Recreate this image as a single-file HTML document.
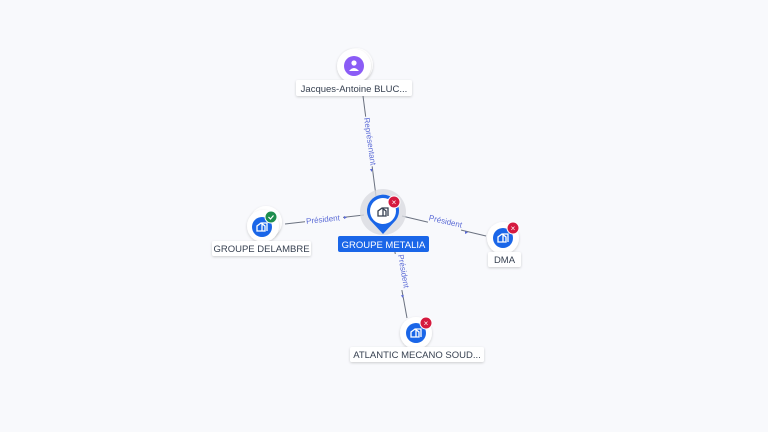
<!DOCTYPE html>
<html><head><meta charset="utf-8"><style>
html,body{margin:0;padding:0;background:#f8f9fc;}
svg{display:block;font-family:"Liberation Sans",sans-serif;}
</style></head><body>
<svg width="768" height="432" viewBox="0 0 768 432">
<defs>
<filter id="sh" x="-30%" y="-30%" width="160%" height="160%"><feDropShadow dx="0" dy="1" stdDeviation="1.2" flood-color="#000" flood-opacity="0.18"/></filter>
<g id="bld"><path d="M-5,4 V-1 L-1,-4 L3,-1 V4 Z M0,4 V-4 H5 V4" fill="none" stroke="#fff" stroke-width="1.3"/></g>
</defs>
<g stroke="#6b7280" stroke-width="1" fill="none">
<line x1="363" y1="96" x2="376" y2="196"/>
<line x1="285" y1="224" x2="364" y2="215"/>
<line x1="402" y1="216" x2="486" y2="236"/>
<line x1="392" y1="236" x2="407" y2="318"/>
</g>
<g fill="#5b6bd6" font-size="8">
<rect x="-1" y="-8" width="50" height="11" fill="#f8f9fc" transform="translate(364,118) rotate(82)"/>
<text transform="translate(364,118) rotate(82)">Représentant</text>
<path d="M370,168 l3,1.5 -3,1.5z" transform="rotate(82 371 170)"/>
<rect x="305" y="213" width="38" height="10" fill="#f8f9fc"/>
<text x="306" y="222" transform="rotate(-6 324 219)">Président</text>
<path d="M344,216 l3,1.5 -3,1.5z"/>
<rect x="428" y="217" width="34" height="14" fill="#f8f9fc" transform="rotate(13 445 224)"/>
<text x="428" y="224" transform="rotate(13 445 224)">Président</text>
<path d="M465,231 l3,1.5 -3,1.5z"/>
<rect x="392" y="254" width="12" height="36" fill="#f8f9fc"/>
<text transform="translate(398,255) rotate(80)">Président</text>
<path d="M402,295 l3,1.5 -3,1.5z" transform="rotate(80 403 296)"/>
</g>
<circle cx="356" cy="65" r="17" fill="#fff" filter="url(#sh)"/>
<circle cx="354" cy="66" r="17" fill="#fff" filter="url(#sh)"/>
<circle cx="354" cy="66" r="10" fill="#8b5cf6"/>
<circle cx="354" cy="63" r="2.6" fill="#fff"/>
<path d="M349,71 q5,-6 10,0z" fill="#fff"/>
<rect x="296" y="80" width="116" height="16" rx="2" fill="#fff" filter="url(#sh)"/>
<text x="354" y="92" font-size="9.5" fill="#374151" text-anchor="middle">Jacques-Antoine BLUC...</text>
<circle cx="383" cy="212" r="23" fill="#d9dbe0" opacity="0.8"/>
<path d="M383,234 L370,220 A16,16 0 1 1 396,220 Z" fill="#1a66e8"/>
<circle cx="383" cy="211" r="13" fill="#fff"/>
<g transform="translate(383,212)"><path d="M-5,4 V-1 L-1,-4 L3,-1 V4 Z M0,4 V-4 H5 V4" fill="none" stroke="#374151" stroke-width="1.3"/></g>
<circle cx="394" cy="202" r="6" fill="#d51a3f" stroke="#fff" stroke-width="1"/>
<text x="394" y="205" font-size="8" fill="#fff" text-anchor="middle">×</text>
<rect x="338" y="236" width="91" height="16" rx="2" fill="#1a66e8"/>
<text x="383.5" y="248" font-size="9.5" fill="#fff" text-anchor="middle">GROUPE METALIA</text>
<circle cx="266" cy="222" r="16" fill="#fff" filter="url(#sh)"/>
<circle cx="263" cy="226" r="16" fill="#fff" filter="url(#sh)"/>
<circle cx="262" cy="227" r="10" fill="#1a66e8"/>
<use href="#bld" x="262" y="227"/>
<circle cx="271" cy="217" r="6" fill="#1e8e4e" stroke="#fff" stroke-width="1"/>
<path d="M268.5,217 l2,2 3,-3.5" stroke="#fff" fill="none" stroke-width="1.2"/>
<rect x="212" y="241" width="99" height="15" rx="2" fill="#fff" filter="url(#sh)"/>
<text x="261.5" y="252" font-size="9.5" fill="#374151" text-anchor="middle">GROUPE DELAMBRE</text>
<circle cx="503" cy="238" r="16" fill="#fff" filter="url(#sh)"/>
<circle cx="503" cy="238" r="10" fill="#1a66e8"/>
<use href="#bld" x="503" y="238"/>
<circle cx="513" cy="228" r="6" fill="#d51a3f" stroke="#fff" stroke-width="1"/>
<text x="513" y="231" font-size="8" fill="#fff" text-anchor="middle">×</text>
<rect x="488" y="252" width="33" height="15" rx="2" fill="#fff" filter="url(#sh)"/>
<text x="504.5" y="263" font-size="9.5" fill="#374151" text-anchor="middle">DMA</text>
<circle cx="416" cy="333" r="16" fill="#fff" filter="url(#sh)"/>
<circle cx="416" cy="333" r="10" fill="#1a66e8"/>
<use href="#bld" x="416" y="333"/>
<circle cx="426" cy="323" r="6" fill="#d51a3f" stroke="#fff" stroke-width="1"/>
<text x="426" y="326" font-size="8" fill="#fff" text-anchor="middle">×</text>
<rect x="350" y="347" width="134" height="15" rx="2" fill="#fff" filter="url(#sh)"/>
<text x="417" y="358" font-size="9.5" fill="#374151" text-anchor="middle">ATLANTIC MECANO SOUD...</text>
</svg>
</body></html>
